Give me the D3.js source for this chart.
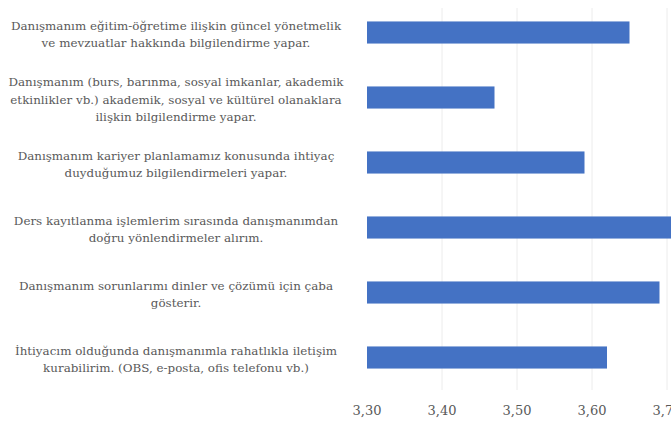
<!DOCTYPE html>
<html><head><meta charset="utf-8">
<script src="https://cdn.jsdelivr.net/npm/d3@7"></script>
<style>body{margin:0;background:#fff;}svg{display:block;}</style>
</head><body>
<svg id="c" width="671" height="421"></svg>
<script>
const categories = [
  ["Danışmanım eğitim-öğretime ilişkin güncel yönetmelik", "ve mevzuatlar hakkında bilgilendirme yapar."],
  ["Danışmanım (burs, barınma, sosyal imkanlar, akademik", "etkinlikler vb.) akademik, sosyal ve kültürel olanaklara", "ilişkin bilgilendirme yapar."],
  ["Danışmanım kariyer planlamamız konusunda ihtiyaç", "duyduğumuz bilgilendirmeleri yapar."],
  ["Ders kayıtlanma işlemlerim sırasında danışmanımdan", "doğru yönlendirmeler alırım."],
  ["Danışmanım sorunlarımı dinler ve çözümü için çaba", "gösterir."],
  ["İhtiyacım olduğunda danışmanımla rahatlıkla iletişim", "kurabilirim. (OBS, e-posta, ofis telefonu vb.)"]
];
const values = [3.65, 3.47, 3.59, 3.73, 3.69, 3.62];
const ticks = [3.30, 3.40, 3.50, 3.60, 3.70];
const tickLabels = ["3,30", "3,40", "3,50", "3,60", "3,70"];

const svg = d3.select("#c");
const x = d3.scaleLinear().domain([3.30, 3.70]).range([367, 667]);
const y = d3.scaleBand().domain(d3.range(categories.length)).range([0, 390]).paddingInner(0.66).paddingOuter(0.33);

svg.append("g").selectAll("line").data(ticks.slice(1)).join("line")
  .attr("x1", d => x(d)).attr("x2", d => x(d)).attr("y1", 8).attr("y2", 390)
  .attr("stroke", "#ececec").attr("stroke-width", 1);

svg.append("g").selectAll("rect").data(values).join("rect")
  .attr("x", x(3.30)).attr("y", (d, i) => y(i))
  .attr("width", d => x(d) - x(3.30)).attr("height", y.bandwidth())
  .attr("fill", "#4472C4");

const lab = svg.append("g").attr("font-family", "'DejaVu Serif', serif").attr("font-size", 11.9).attr("fill", "#595959");
categories.forEach((lines, i) => {
  const cy = y(i) + y.bandwidth() / 2 + 2;
  const lh = 17.5;
  const t = lab.append("text").attr("text-anchor", "middle");
  lines.forEach((s, j) => {
    t.append("tspan").attr("x", 176).attr("y", cy + (j - (lines.length - 1) / 2) * lh).attr("dy", "0.35em").text(s);
  });
});

svg.append("g").attr("font-family", "'DejaVu Serif', serif").attr("font-size", 13).attr("fill", "#595959")
  .selectAll("text").data(ticks).join("text")
  .attr("x", d => x(d)).attr("y", 410).attr("dy", "0.35em").attr("text-anchor", "middle")
  .text((d, i) => tickLabels[i]);
</script>
</body></html>
